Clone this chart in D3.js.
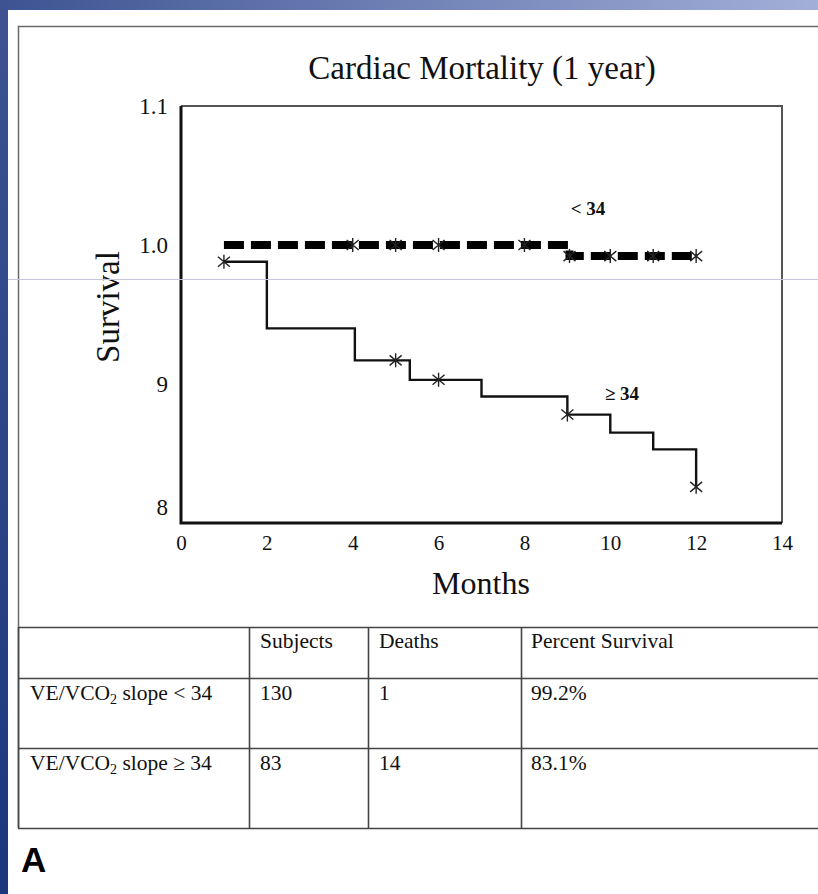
<!DOCTYPE html>
<html>
<head>
<meta charset="utf-8">
<script src="https://cdn.jsdelivr.net/npm/d3@7/dist/d3.min.js"></script>
<style>
  html, body { margin: 0; padding: 0; background: #ffffff; }
  svg { display: block; }
  .serif { font-family: "Liberation Serif", "Times New Roman", "DejaVu Serif", serif; fill: #111; }
</style>
</head>
<body>
<svg id="fig" width="818" height="894"></svg>
<script>
// ---- Kaplan-Meier data: VE/VCO2 slope groups ----
const lowTimes = [1, 9.05, 12];                 // slope < 34: step times (months)
const lowSurv  = [1.0, 0.992, 0.992];           // survival after each step
const lowMarks = [4, 5, 6, 8, 9.05, 10, 11, 12]; // censor marks

const highTimes = [1, 2, 4.05, 5.33, 7, 9, 10, 11, 12];   // slope >= 34
const highSurv  = [0.988, 0.940, 0.917, 0.903, 0.891, 0.878, 0.865, 0.853, 0.826];
const highMarks = [1, 5, 6, 9, 12];

const xTicks = [0, 2, 4, 6, 8, 10, 12, 14];
const yTicks = [1.1, 1.0, 0.9, 0.8];
const yTickLabels = ["1.1", "1.0", "9", "8"];

// ---- summary table ----
const tableHeader = ["", "Subjects", "Deaths", "Percent Survival"];
const groupNames = [["VE/VCO", "2", " slope < 34"], ["VE/VCO", "2", " slope \u2265 34"]];
const subjects = [130, 83];
const deaths = [1, 14];
const percentSurvival = ["99.2%", "83.1%"];

const svg = d3.select("#fig");
const W = 818, H = 894;

// slide background
const defs = svg.append("defs");
const gTop = defs.append("linearGradient").attr("id", "topBand").attr("x1", "0").attr("x2", "1");
gTop.append("stop").attr("offset", "0").attr("stop-color", "#3d5392");
gTop.append("stop").attr("offset", "1").attr("stop-color", "#a2afd8");
const gLeft = defs.append("linearGradient").attr("id", "leftBand").attr("x1", "0").attr("x2", "0").attr("y1", "0").attr("y2", "1");
gLeft.append("stop").attr("offset", "0").attr("stop-color", "#3d5392");
gLeft.append("stop").attr("offset", "1").attr("stop-color", "#1b377c");

svg.append("rect").attr("x", 0).attr("y", 0).attr("width", W).attr("height", 10).attr("fill", "url(#topBand)");
svg.append("rect").attr("x", 0).attr("y", 0).attr("width", 8).attr("height", H).attr("fill", "url(#leftBand)");

// outer figure frame
svg.append("path")
  .attr("d", `M18.5,828 L18.5,26.5 L${W},26.5`)
  .attr("fill", "none").attr("stroke", "#6a6a6a").attr("stroke-width", 1.5);

// ---- plot ----
const x = d3.scaleLinear().domain([0, 14]).range([181, 782]);
const y = d3.scaleLinear().domain([0.8, 1.1]).range([523, 106]);

const plot = svg.append("g");

// axes labels via d3 axes
const xAxis = plot.append("g").attr("transform", `translate(0,${y(0.8)})`)
  .call(d3.axisBottom(x).tickValues(xTicks).tickSize(0).tickPadding(12));
const yAxis = plot.append("g").attr("transform", `translate(${x(0)},0)`)
  .call(d3.axisLeft(y).tickValues(yTicks).tickFormat((d, i) => yTickLabels[i]).tickSize(0).tickPadding(13));
[xAxis, yAxis].forEach(a => {
  a.select(".domain").remove();
  a.selectAll("text").attr("class", "serif").attr("fill", "#222")
    .style("font-size", "21px");
});
yAxis.selectAll("text").style("font-size", "23px");
yAxis.selectAll("text").filter((d, i) => i === 3).attr("dy", "-0.35em");

// plot frame: heavier left/bottom, lighter top/right
plot.append("path")
  .attr("d", `M${x(0)},${y(1.1)} L${x(14)},${y(1.1)} L${x(14)},${y(0.8)}`)
  .attr("fill", "none").attr("stroke", "#555").attr("stroke-width", 2);
plot.append("path")
  .attr("d", `M${x(0)},${y(1.1)} L${x(0)},${y(0.8)} L${x(14)},${y(0.8)}`)
  .attr("fill", "none").attr("stroke", "#111").attr("stroke-width", 3);

const step = d3.line().x(d => x(d[0])).y(d => y(d[1])).curve(d3.curveStepAfter);
const lowPts = lowTimes.map((t, i) => [t, lowSurv[i]]);
const highPts = highTimes.map((t, i) => [t, highSurv[i]]);

plot.append("path").attr("d", step(highPts))
  .attr("fill", "none").attr("stroke", "#111").attr("stroke-width", 2.4);
plot.append("path").attr("d", step(lowPts))
  .attr("fill", "none").attr("stroke", "#000").attr("stroke-width", 8)
  .attr("stroke-dasharray", "20 7");

function survAt(times, surv, t) {
  let v = surv[0];
  times.forEach((tt, i) => { if (tt <= t) v = surv[i]; });
  return v;
}
const star = "M-6,-5L6,5M-6,5L6,-5M0,-7L0,7";
function drawMarks(marks, times, surv) {
  plot.append("g").selectAll("path").data(marks).join("path")
    .attr("transform", t => `translate(${x(t)},${y(survAt(times, surv, t))})`)
    .attr("d", star).attr("fill", "none").attr("stroke", "#222").attr("stroke-width", 1.4);
}
drawMarks(lowMarks, lowTimes, lowSurv);
drawMarks(highMarks, highTimes, highSurv);

// group labels
plot.append("text").attr("class", "serif").attr("x", 588).attr("y", 215)
  .attr("text-anchor", "middle").style("font-size", "19px").style("font-weight", "bold").text("< 34");
plot.append("text").attr("class", "serif").attr("x", 622).attr("y", 400)
  .attr("text-anchor", "middle").style("font-size", "19px").style("font-weight", "bold").text("\u2265 34");

// titles
svg.append("text").attr("class", "serif").attr("x", 482).attr("y", 79)
  .attr("text-anchor", "middle").style("font-size", "33px").text("Cardiac Mortality (1 year)");
svg.append("text").attr("class", "serif").attr("x", 481).attr("y", 594)
  .attr("text-anchor", "middle").style("font-size", "32px").text("Months");
svg.append("text").attr("class", "serif")
  .attr("transform", "translate(119,307) rotate(-90)")
  .attr("text-anchor", "middle").style("font-size", "33px").text("Survival");

// faint scan line across the page
svg.append("line").attr("x1", 8).attr("x2", W).attr("y1", 279.5).attr("y2", 279.5)
  .attr("stroke", "#c9c5de").attr("stroke-width", 1);

// ---- table ----
const rowY = [627, 678, 748, 828];
const colX = [18, 249, 368, 521];
const tbl = svg.append("g");
rowY.forEach(ry => tbl.append("line").attr("x1", 18).attr("x2", W).attr("y1", ry + 0.5).attr("y2", ry + 0.5)
  .attr("stroke", "#444").attr("stroke-width", 1.6));
colX.forEach(cx => tbl.append("line").attr("x1", cx + 0.5).attr("x2", cx + 0.5).attr("y1", 627).attr("y2", 828)
  .attr("stroke", "#444").attr("stroke-width", 1.6));

const textX = [30, 260, 379, 531];
const fs = "21.5px";
tableHeader.forEach((h, i) => {
  if (h) tbl.append("text").attr("class", "serif").attr("x", textX[i]).attr("y", rowY[0] + 21)
    .style("font-size", fs).text(h);
});
[0, 1].forEach(r => {
  const by = rowY[r + 1] + 22;
  const t = tbl.append("text").attr("class", "serif").attr("x", textX[0]).attr("y", by).style("font-size", fs);
  t.append("tspan").text(groupNames[r][0]);
  t.append("tspan").attr("dy", 4).style("font-size", "14px").text(groupNames[r][1]);
  t.append("tspan").attr("dy", -4).text(groupNames[r][2]);
  [subjects[r], deaths[r], percentSurvival[r]].forEach((v, c) => {
    tbl.append("text").attr("class", "serif").attr("x", textX[c + 1]).attr("y", by)
      .style("font-size", fs).text(v);
  });
});

// panel letter
svg.append("text").attr("x", 21).attr("y", 872)
  .style("font-family", "'Liberation Sans', Arial, sans-serif").style("font-weight", "bold")
  .style("font-size", "35px").attr("fill", "#000").text("A");
</script>
</body>
</html>
